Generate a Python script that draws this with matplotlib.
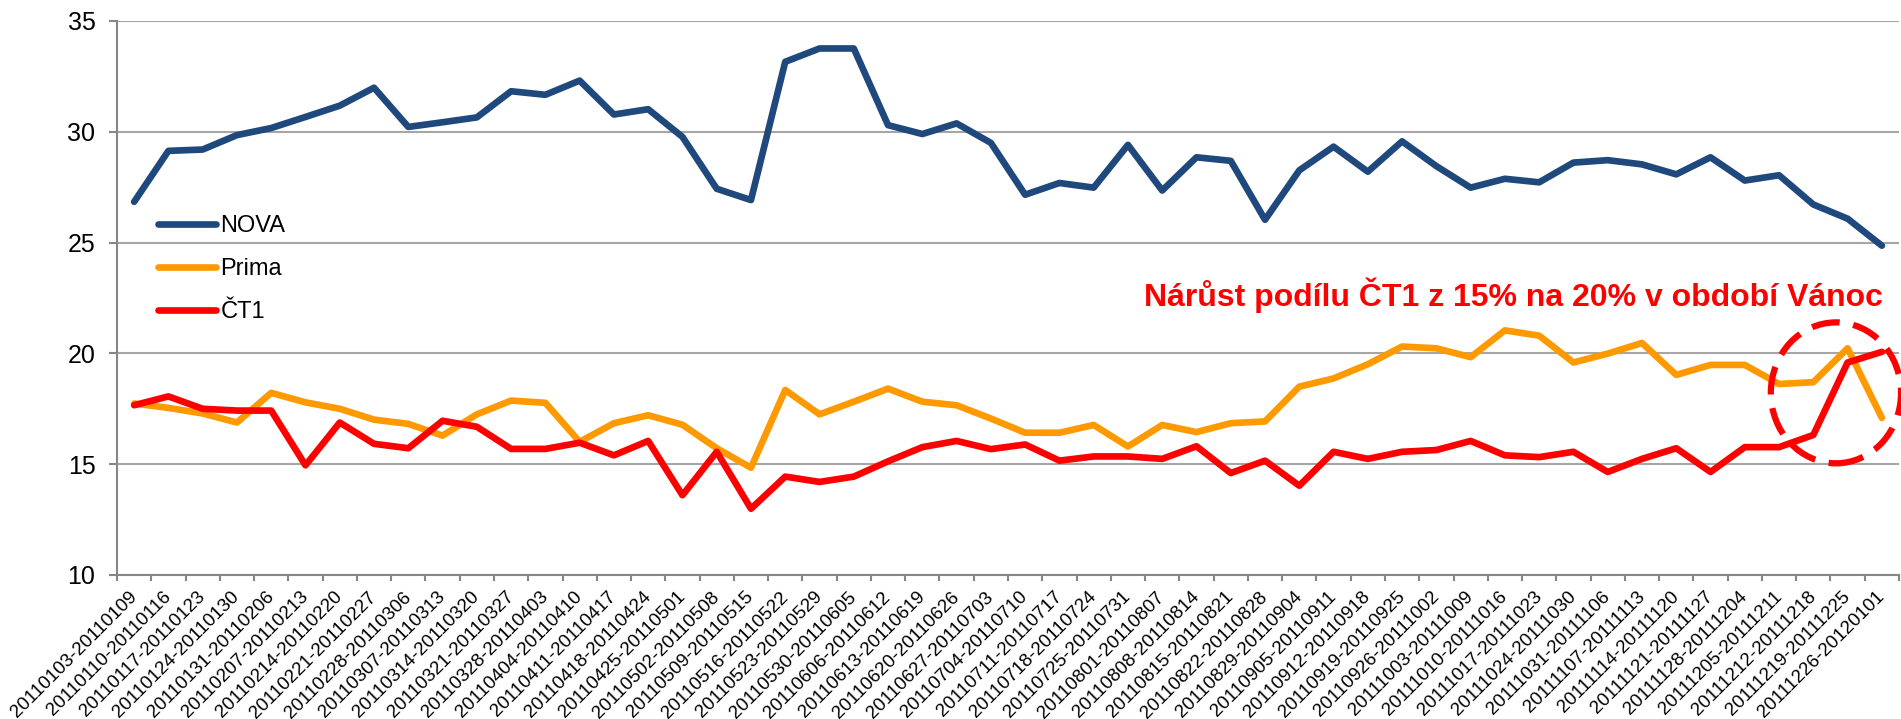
import matplotlib
matplotlib.use("Agg")
import matplotlib.pyplot as plt
from matplotlib.patches import Ellipse
from matplotlib.ticker import FixedLocator, NullFormatter
import datetime as dt

plt.rcParams['font.family'] = ['Liberation Sans', 'DejaVu Sans']

# ---- data ----
week_starts = [dt.date(2011, 1, 3) + dt.timedelta(days=7 * k) for k in range(52)]
categories = [f"{d:%Y%m%d}-{(d + dt.timedelta(days=6)):%Y%m%d}" for d in week_starts]

nova = [26.84, 29.14, 29.2, 29.85, 30.17, 30.67, 31.18, 31.99, 30.22, 30.43,
        30.65, 31.83, 31.67, 32.31, 30.78, 31.02, 29.77, 27.43, 26.92, 33.16,
        33.76, 33.76, 30.30, 29.9, 30.38, 29.5, 27.16, 27.69, 27.48, 29.41,
        27.35, 28.85, 28.69, 26.03, 28.26, 29.33, 28.2, 29.57, 28.45, 27.48,
        27.88, 27.72, 28.61, 28.72, 28.53, 28.08, 28.85, 27.8, 28.04, 26.72,
        26.08, 24.86]
prima = [17.74, 17.54, 17.29, 16.88, 18.22, 17.79, 17.5, 17.01, 16.82, 16.29,
         17.25, 17.87, 17.77, 16.01, 16.85, 17.21, 16.78, 15.72, 14.84, 18.35,
         17.25, 17.82, 18.41, 17.82, 17.66, 17.06, 16.42, 16.42, 16.77, 15.8,
         16.77, 16.45, 16.85, 16.93, 18.5, 18.87, 19.51, 20.31, 20.23, 19.83,
         21.04, 20.8, 19.59, 19.99, 20.47, 19.03, 19.48, 19.48, 18.62, 18.7,
         20.23, 17.09]
ct1 = [17.66, 18.06, 17.5, 17.42, 17.42, 14.95, 16.88, 15.92, 15.72, 16.96,
       16.69, 15.69, 15.69, 15.97, 15.4, 16.05, 13.6, 15.56, 12.99, 14.44,
       14.2, 14.44, 15.13, 15.77, 16.05, 15.68, 15.89, 15.16, 15.35, 15.35,
       15.24, 15.81, 14.6, 15.16, 14.03, 15.56, 15.24, 15.56, 15.64, 16.05,
       15.4, 15.32, 15.56, 14.65, 15.24, 15.72, 14.65, 15.77, 15.77, 16.32,
       19.59, 20.07]
series_names = ["NOVA", "Prima", "ČT1"]
series_colors = ["#1F497D", "#FF9900", "#FF0000"]
y_ticks = [10, 15, 20, 25, 30, 35]
annotation = "Nárůst podílu ČT1 z 15% na 20% v období Vánoc"

# ---- figure ----
W, H = 1901, 719
fig = plt.figure(figsize=(W / 100, H / 100), dpi=100)
ax = fig.add_axes([117 / W, 1 - 575 / H, (1899 - 117) / W, (575 - 21) / H])

x = list(range(len(categories)))
for vals, name, col in zip([nova, prima, ct1], series_names, series_colors):
    ax.plot(x, vals, color=col, lw=4.8, label=name,
            solid_capstyle='round', solid_joinstyle='round', zorder=3)

ax.set_xlim(-0.5, len(categories) - 0.5)
ax.set_ylim(10, 35)
ax.set_yticks(y_ticks)
ax.yaxis.grid(True, color='#A6A6A6', lw=1.5)
ax.set_axisbelow(True)

for s in ['top', 'right']:
    ax.spines[s].set_visible(False)
for s in ['left', 'bottom']:
    ax.spines[s].set_color('#868686')
    ax.spines[s].set_linewidth(1.5)

ax.tick_params(axis='y', length=5.5, width=1.5, color='#868686', pad=10,
               labelsize=18)

# x: boundary ticks (major), labels at centers (minor)
ax.xaxis.set_major_locator(FixedLocator([i - 0.5 for i in range(len(categories) + 1)]))
ax.xaxis.set_major_formatter(NullFormatter())
ax.xaxis.set_minor_locator(FixedLocator(x))
ax.set_xticklabels(categories, minor=True, rotation=45, ha='right', va='center',
                   rotation_mode='anchor', fontsize=13.5)
ax.tick_params(axis='x', which='major', length=4, width=1.5, color='#868686')
ax.tick_params(axis='x', which='minor', length=0, pad=14)

leg = ax.legend(loc='upper left', bbox_to_anchor=(0.023, 0.65), frameon=False,
                fontsize=17, handlelength=2.45, handletextpad=0.2,
                labelspacing=0.9, borderpad=0, borderaxespad=0)

ax.text(40.26, 22.64, annotation, color='#FF0000', fontsize=23,
        fontweight='bold', ha='center', va='center')

ell = Ellipse((49.66, 18.22), width=3.8, height=6.36, fill=False,
              ec='#FF0000', lw=4.5, linestyle=(0, (4.5, 2.2)), clip_on=False,
              zorder=4)
ax.add_patch(ell)

fig.savefig("out.png", dpi=100)
